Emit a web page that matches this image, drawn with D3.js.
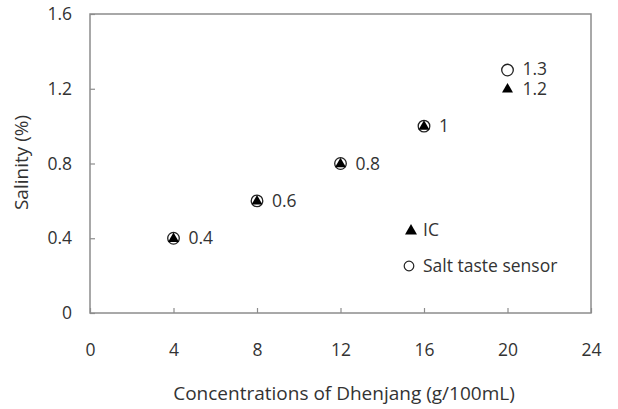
<!DOCTYPE html>
<html>
<head>
<meta charset="utf-8">
<script src="https://cdn.jsdelivr.net/npm/d3@7"></script>
<style>
body { margin: 0; background: #fff; }
svg { display: block; font-family: "Open Sans", Lato, sans-serif; }
</style>
</head>
<body>
<svg width="618" height="409"></svg>
<script>
const concentrations = [4, 8, 12, 16, 20];
const icValues = [0.4, 0.6, 0.8, 1.0, 1.2];
const sensorValues = [0.4, 0.6, 0.8, 1.0, 1.3];
const pointLabels = ["0.4", "0.6", "0.8", "1", "1.2"];
const xTicks = [0, 4, 8, 12, 16, 20, 24];
const yTicks = [0, 0.4, 0.8, 1.2, 1.6];

const svg = d3.select("svg");
const margin = {left: 90, right: 27, top: 14, bottom: 96};
const W = 618, H = 409;
const fs = "17.5px";
const fsTitle = "19px";

const x = d3.scaleLinear().domain([0, 24]).range([margin.left, W - margin.right]);
const y = d3.scaleLinear().domain([0, 1.6]).range([H - margin.bottom, margin.top]);

const frameColor = "#8c8c8c";
const textColor = "#333";

// frame
svg.append("rect")
    .attr("x", x(0)).attr("y", y(1.6))
    .attr("width", x(24) - x(0)).attr("height", y(0) - y(1.6))
    .attr("fill", "none").attr("stroke", frameColor).attr("stroke-width", 1.5);

// axes with inward ticks
const xAxis = svg.append("g")
    .attr("transform", "translate(0," + y(0) + ")")
    .call(d3.axisBottom(x).tickValues(xTicks).tickSizeInner(-5).tickSizeOuter(0).tickPadding(31));
const yAxis = svg.append("g")
    .attr("transform", "translate(" + x(0) + ",0)")
    .call(d3.axisLeft(y).tickValues(yTicks).tickSizeInner(-5).tickSizeOuter(0).tickPadding(18)
        .tickFormat(d => d === 0 ? "0" : d3.format(".1f")(d)));

[xAxis, yAxis].forEach(g => {
    g.select(".domain").remove();
    g.selectAll("line").attr("stroke", frameColor).attr("stroke-width", 1.2);
    g.selectAll("text").attr("fill", textColor).style("font-size", fs)
        .style("font-family", "'Open Sans', Lato, sans-serif");
});

// axis titles
svg.append("text")
    .attr("x", 344).attr("y", 400)
    .attr("text-anchor", "middle").attr("fill", textColor).style("font-size", fsTitle)
    .text("Concentrations of Dhenjang (g/100mL)");
svg.append("text")
    .attr("transform", "translate(28," + (y(0.8) - 1) + ") rotate(-90)")
    .attr("text-anchor", "middle").attr("fill", textColor).style("font-size", fsTitle)
    .text("Salinity (%)");

const tri = d3.symbol().type(d3.symbolTriangle).size(52);
const triLegend = d3.symbol().type(d3.symbolTriangle).size(62);

// sensor circles
svg.selectAll(".sensor").data(concentrations).join("circle")
    .attr("cx", d => x(d)).attr("cy", (d, i) => y(sensorValues[i]))
    .attr("r", 5.8).attr("fill", "#fff").attr("stroke", "#222").attr("stroke-width", 1.3);

// IC triangles
svg.selectAll(".ic").data(concentrations).join("path")
    .attr("d", tri)
    .attr("transform", (d, i) => "translate(" + x(d) + "," + (y(icValues[i]) + 0.5) + ")")
    .attr("fill", "#000");

// value labels
svg.selectAll(".lbl").data(concentrations).join("text")
    .attr("x", d => x(d) + 15).attr("y", (d, i) => y(icValues[i]) + 6)
    .attr("fill", textColor).style("font-size", fs)
    .text((d, i) => pointLabels[i]);
svg.append("text")
    .attr("x", x(20) + 15).attr("y", y(1.3) + 5)
    .attr("fill", textColor).style("font-size", fs)
    .text("1.3");

// legend
const lg = svg.append("g").attr("transform", "translate(411,230)");
lg.append("path").attr("d", triLegend).attr("transform", "translate(0,1)").attr("fill", "#000");
lg.append("text").attr("x", 12).attr("y", 6).attr("fill", textColor)
    .style("font-size", fs).text("IC");
lg.append("circle").attr("cx", -2).attr("cy", 36).attr("r", 4.8)
    .attr("fill", "#fff").attr("stroke", "#222").attr("stroke-width", 1.2);
lg.append("text").attr("x", 12).attr("y", 42).attr("fill", textColor)
    .style("font-size", fs).text("Salt taste sensor");
</script>
</body>
</html>
